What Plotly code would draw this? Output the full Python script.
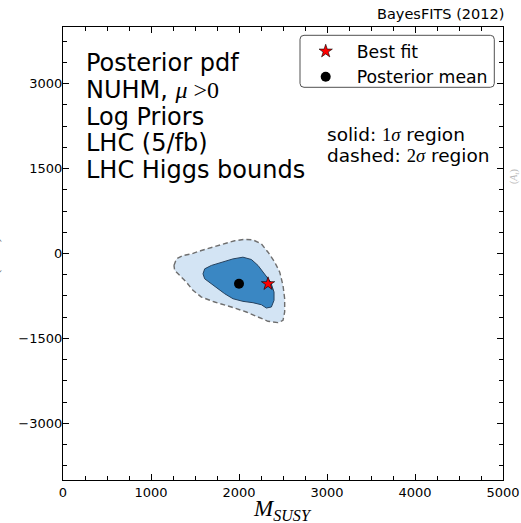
import plotly.graph_objects as go

# Credible-region boundaries in the (M_SUSY, A0) plane
sigma2_x = [1261, 1289, 1364, 1459, 1573, 1705, 1838, 1951, 2065, 2159, 2255, 2330, 2406, 2463,
            2500, 2519, 2519, 2500, 2443, 2330, 2216, 2084, 1914, 1724, 1573, 1477, 1402, 1326, 1269]
sigma2_y = [-211, -95, -35, -7, 53, 111, 169, 225, 250, 240, 169, 23, -153, -329,
            -563, -799, -1033, -1179, -1221, -1197, -1121, -1033, -945, -857, -769, -651, -505, -387, -299]

sigma1_x = [1591, 1610, 1686, 1818, 1932, 2045, 2141, 2216, 2292, 2360, 2398, 2398, 2368, 2311,
            2255, 2159, 2045, 1932, 1838, 1761, 1686, 1610]
sigma1_y = [-359, -271, -211, -153, -95, -65, -106, -211, -359, -505, -681, -827, -945, -963,
            -905, -869, -845, -799, -711, -623, -535, -447]

best_fit_x = [2330]
best_fit_y = [-535]
post_mean_x = [2000]
post_mean_y = [-535]

x_ticks = [0, 1000, 2000, 3000, 4000, 5000]
x_tick_labels = ["0", "1000", "2000", "3000", "4000", "5000"]
y_ticks = [-3000, -1500, 0, 1500, 3000]
y_tick_labels = ["\u22123000", "\u22121500", "0", "1500", "3000"]

SERIF = "Liberation Serif"
SANS = "DejaVu Sans"

info_lines = [
    "Posterior pdf",
    "NUHM, <span style=\"font-family:'Liberation Serif'\"><i>\u03bc</i> &gt;0</span>",
    "Log Priors",
    "LHC (5/fb)",
    "LHC Higgs bounds",
]
region_lines = [
    "solid: <span style=\"font-family:'Liberation Serif'\">1<i>\u03c3</i></span> region",
    "dashed: <span style=\"font-family:'Liberation Serif'\">2<i>\u03c3</i></span> region",
]

# figure geometry (pixels)
FIG_W, FIG_H = 521, 523
M_L, M_R, M_T, M_B = 63, 18, 27, 43
PW = FIG_W - M_L - M_R
PH = FIG_H - M_T - M_B


def px_x(px):
    return (px - M_L) / PW


def px_y(py):
    return (FIG_H - M_B - py) / PH


fig = go.Figure()

fig.add_trace(go.Scatter(
    x=sigma2_x + sigma2_x[:1], y=sigma2_y + sigma2_y[:1],
    mode="lines", fill="toself", fillcolor="#d3e4f4",
    line=dict(color="#6e6e6e", width=1.4, dash="5px,3px"),
    showlegend=False, hoverinfo="skip"))

fig.add_trace(go.Scatter(
    x=sigma1_x + sigma1_x[:1], y=sigma1_y + sigma1_y[:1],
    mode="lines", fill="toself", fillcolor="#3a87c3",
    line=dict(color="#24415e", width=1),
    showlegend=False, hoverinfo="skip"))

fig.add_trace(go.Scatter(
    x=best_fit_x, y=best_fit_y, mode="markers", name="\u00a0\u00a0Best fit",
    marker=dict(symbol="star", size=10, color="#ff0000", line=dict(color="black", width=0.6))))

fig.add_trace(go.Scatter(
    x=post_mean_x, y=post_mean_y, mode="markers", name="\u00a0\u00a0Posterior mean",
    marker=dict(symbol="circle", size=10, color="black")))

axis_common = dict(
    ticks="inside", ticklen=6, tickwidth=1, tickcolor="black",
    mirror="allticks", showline=True, linecolor="black", linewidth=1.3,
    showgrid=False, zeroline=False, automargin=False,
    tickfont=dict(family=SANS, size=13, color="black"),
)

fig.update_xaxes(range=[0, 5000], tickmode="array", tickvals=x_ticks, ticktext=x_tick_labels,
                 minor=dict(ticks="inside", tickmode="linear", tick0=0, dtick=250,
                            ticklen=3.5, tickwidth=1, tickcolor="black", showgrid=False),
                 **axis_common)
fig.update_yaxes(range=[-4000, 4000], tickmode="array", tickvals=y_ticks, ticktext=y_tick_labels,
                 ticklabelstandoff=-3,
                 minor=dict(ticks="inside", tickmode="linear", tick0=0, dtick=375,
                            ticklen=3.5, tickwidth=1, tickcolor="black", showgrid=False),
                 **axis_common)

annotations = []
info_y = [63.5, 90, 116.5, 143, 170]
for text, y in zip(info_lines, info_y):
    annotations.append(dict(text=text, x=px_x(84), y=px_y(y), xref="paper", yref="paper",
                            xanchor="left", yanchor="middle", showarrow=False,
                            font=dict(family=SANS, size=24, color="black")))
for text, y in zip(region_lines, [134, 155]):
    annotations.append(dict(text=text, x=px_x(325), y=px_y(y), xref="paper", yref="paper",
                            xanchor="left", yanchor="middle", showarrow=False,
                            font=dict(family=SANS, size=18.5, color="black")))
annotations.append(dict(text="BayesFITS (2012)", x=px_x(506), y=px_y(14), xref="paper", yref="paper",
                        xanchor="right", yanchor="middle", showarrow=False,
                        font=dict(family=SANS, size=14.5, color="black")))
annotations.append(dict(text="<i>M</i><sub><i>SUSY</i></sub>", x=px_x(282), y=px_y(510),
                        xref="paper", yref="paper", xanchor="center", yanchor="middle",
                        showarrow=False, font=dict(family=SERIF, size=23, color="black")))
annotations.append(dict(text="(TeV)", x=px_x(-7), y=px_y(256), xref="paper", yref="paper",
                        xanchor="center", yanchor="middle", textangle=-90, showarrow=False,
                        font=dict(family=SERIF, size=16, color="#777777")))
annotations.append(dict(text="(<i>A</i><sub><i>t</i></sub>)", x=px_x(514), y=px_y(177),
                        xref="paper", yref="paper", xanchor="center", yanchor="middle",
                        textangle=-90, showarrow=False,
                        font=dict(family=SERIF, size=10, color="#b8b8b8")))


# rounded legend frame
def rounded_rect(x0, y0, x1, y1, r):
    rx, ry = r / PW, r / PH
    X0, X1 = px_x(x0), px_x(x1)
    Y0, Y1 = px_y(y0), px_y(y1)  # Y0 top, Y1 bottom in paper units
    return (f"M {X0 + rx} {Y0} L {X1 - rx} {Y0} Q {X1} {Y0} {X1} {Y0 - ry} "
            f"L {X1} {Y1 + ry} Q {X1} {Y1} {X1 - rx} {Y1} "
            f"L {X0 + rx} {Y1} Q {X0} {Y1} {X0} {Y1 + ry} "
            f"L {X0} {Y0 - ry} Q {X0} {Y0} {X0 + rx} {Y0} Z")


fig.update_layout(
    template="none",
    width=FIG_W, height=FIG_H,
    margin=dict(l=M_L, r=M_R, t=M_T, b=M_B, pad=0, autoexpand=False),
    paper_bgcolor="white", plot_bgcolor="white",
    font=dict(family=SANS, color="black"),
    annotations=annotations,
    shapes=[dict(type="path", path=rounded_rect(300, 35.3, 494.3, 87.3, 4), xref="paper", yref="paper",
                 line=dict(color="#505050", width=1), fillcolor="white", layer="above")],
    legend=dict(x=px_x(305.7), y=px_y(33.5), xanchor="left", yanchor="top",
                bgcolor="rgba(0,0,0,0)", borderwidth=0,
                font=dict(family=SANS, size=17.3, color="black"), itemsizing="trace"),
    showlegend=True,
)

fig.write_html("out.html")
